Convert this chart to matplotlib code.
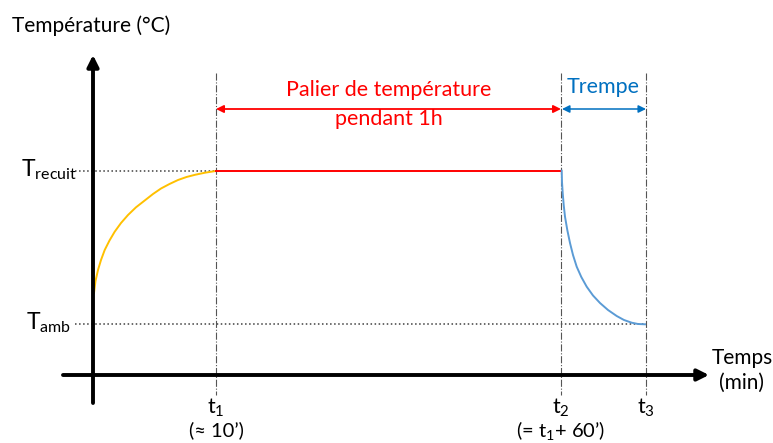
import matplotlib.pyplot as plt

plt.rcParams['font.family'] = ['Lato', 'DejaVu Sans']
plt.rcParams['mathtext.fontset'] = 'custom'
plt.rcParams['mathtext.rm'] = 'Lato'
plt.rcParams['mathtext.it'] = 'Lato'

# schematic coordinates (not to scale), time to the right, temperature upwards
t_marks = [216, 561, 646]            # t1, t2, t3
t_labels = ['t$_1$', 't$_2$', 't$_3$']
t_notes = ['(≈ 10’)', '(= t$_1$+ 60’)', '']
T_recuit = 171
T_amb = 324

# heating curve
heat_t = [94, 95.5, 98, 101, 104.7, 109.5, 114.7, 121, 128, 136, 144.7,
          153, 161, 169.5, 178, 186.5, 195, 205, 215.7]
heat_T = [293, 281, 270, 260, 250, 240.5, 231.7, 223, 215, 207.3, 200.5,
          194, 188.5, 184, 180, 177, 174.8, 172.7, 171]

# quench curve
quench_t = [561.7, 562, 562.7, 563.7, 565, 567.3, 570, 573, 576.7, 581.3,
            586.7, 593, 600, 608, 616.7, 624, 631.7, 638, 645]
quench_T = [170.7, 182, 193, 205, 216.7, 230, 243, 255, 266.7, 277,
            286.7, 295.5, 303, 310, 316, 320, 322.7, 324, 324.3]

fig = plt.figure(figsize=(7.73, 4.43), dpi=100)
ax = fig.add_axes([0, 0, 1, 1])
ax.set_xlim(0, 773)
ax.set_ylim(443, 0)
ax.axis('off')

# axes arrows
ax.annotate('', xy=(93, 55), xytext=(93, 403),
            arrowprops=dict(arrowstyle='-|>', lw=2.8, color='black',
                            mutation_scale=17, shrinkA=0, shrinkB=0))
ax.annotate('', xy=(709, 375), xytext=(63, 375),
            arrowprops=dict(arrowstyle='-|>', lw=2.8, color='black',
                            mutation_scale=17, shrinkA=0, shrinkB=0))

# guide lines
ax.plot([75, t_marks[0]], [T_recuit, T_recuit], ls=':', lw=1.1, color='#404040')
ax.plot([75, t_marks[2]], [T_amb, T_amb], ls=':', lw=1.1, color='#404040')
for t in t_marks:
    ax.plot([t, t], [73, 395], ls='-.', lw=0.8, color='#555555')

# temperature profile
ax.plot(heat_t, heat_T, color='#FFC000', lw=1.4, solid_joinstyle='round')
ax.plot([t_marks[0], t_marks[1]], [T_recuit, T_recuit], color='#FF0000', lw=1.4)
ax.plot(quench_t, quench_T, color='#5B9BD5', lw=1.4, solid_joinstyle='round')

# duration arrows
ax.annotate('', xy=(t_marks[0], 109), xytext=(t_marks[1], 109),
            arrowprops=dict(arrowstyle='<|-|>', lw=1.3, color='#FF0000',
                            mutation_scale=11, shrinkA=0, shrinkB=0))
ax.annotate('', xy=(t_marks[1] + 1, 109), xytext=(t_marks[2], 109),
            arrowprops=dict(arrowstyle='<|-|>', lw=1.1, color='#0070C0',
                            mutation_scale=11, shrinkA=0, shrinkB=0))
ax.text(389, 90, 'Palier de température', color='#FF0000', fontsize=15.5,
        ha='center', va='center')
ax.text(389, 119, 'pendant 1h', color='#FF0000', fontsize=15.5,
        ha='center', va='center')
ax.text(603, 87, 'Trempe', color='#0070C0', fontsize=15.5,
        ha='center', va='center')

# labels
ax.text(12, 26, 'Température (°C)', fontsize=15, ha='left', va='center')
ax.text(21, 176, 'T$_{\\mathrm{recuit}}$', fontsize=16.5, ha='left', va='baseline')
ax.text(26, 329, 'T$_{\\mathrm{amb}}$', fontsize=16.5, ha='left', va='baseline')
ax.text(742, 358, 'Temps', fontsize=15, ha='center', va='center')
ax.text(742, 383, '(min)', fontsize=15, ha='center', va='center')
for t, lab, note in zip(t_marks, t_labels, t_notes):
    ax.text(t, 408, lab, fontsize=15.5, ha='center', va='center')
    if note:
        ax.text(t, 430, note, fontsize=14.5, ha='center', va='center')

fig.savefig('out.png', dpi=100)
